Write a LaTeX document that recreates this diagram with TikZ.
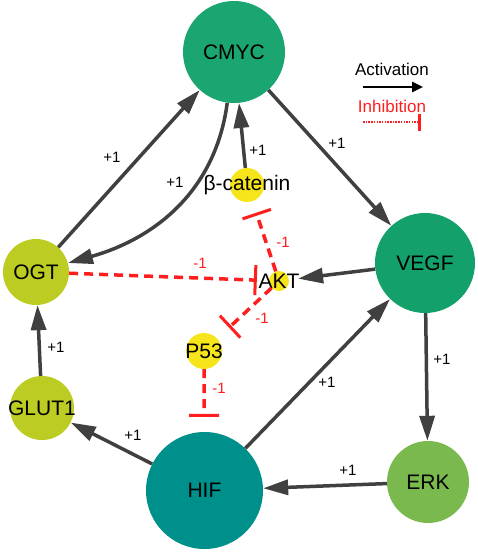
\documentclass[tikz,border=0pt]{standalone}
\usepackage{fontspec}
\setmainfont{Liberation Sans}
\usetikzlibrary{arrows.meta}
\definecolor{cmycg}{HTML}{1BA570}
\definecolor{vegfg}{HTML}{14A06B}
\definecolor{erkg}{HTML}{79B94E}
\definecolor{hift}{HTML}{00908B}
\definecolor{ogty}{HTML}{BDCC23}
\definecolor{yel}{HTML}{F7E51B}
\definecolor{edgec}{HTML}{404040}
\definecolor{inhc}{HTML}{FF1E1E}
\begin{document}
\begin{tikzpicture}[x=1pt,y=-1pt,
  gnode/.style={circle, inner sep=0pt, font=\fontsize{21}{21}\selectfont},
  act/.style={draw=edgec, line width=3.5pt, -{Triangle[length=25pt,width=15pt]}},
  inh/.style={draw=inhc, line width=3.5pt, dash pattern=on 9pt off 6pt, -{Bar[width=30pt,line width=3pt]}},
  lab/.style={font=\fontsize{15}{15}\selectfont, inner sep=0pt},
  nlab/.style={lab, text=inhc}]
\useasboundingbox (0,0) rectangle (477,552);
% nodes
\node[gnode, fill=cmycg, minimum size=102pt] (cmyc) at (234,52) {\makebox[0pt]{CMYC}};
\node[gnode, fill=vegfg, minimum size=100pt] (vegf) at (425,263) {\makebox[0pt]{VEGF}};
\node[gnode, fill=erkg, minimum size=82pt] (erk) at (428,482) {\makebox[0pt]{ERK}};
\node[gnode, fill=hift, minimum size=117pt] (hif) at (204.5,490.5) {\makebox[0pt]{HIF}};
\node[gnode, fill=ogty, minimum size=64pt] (glut) at (42,408) {\makebox[0pt]{GLUT1}};
\node[gnode, fill=ogty, minimum size=66pt] (ogt) at (36,272) {\makebox[0pt]{OGT}};
\node[gnode, fill=yel, minimum size=34pt] (bcat) at (247,185) {\makebox[0pt]{β-catenin}};
\node[gnode, fill=yel, minimum size=20pt] (akt) at (279,281) {\makebox[0pt]{AKT}};
\node[gnode, fill=yel, minimum size=36pt] (p53) at (204,351) {\makebox[0pt]{P53}};
% activation edges
\draw[act] (ogt) -- (cmyc);
\draw[act] (cmyc) .. controls (215,195) and (150,240) .. (ogt);
\draw[act] (bcat) -- (cmyc);
\draw[act] (cmyc) -- (vegf);
\draw[act, shorten >=9pt] (vegf) -- (akt);
\draw[act] (hif) -- (vegf);
\draw[act] (vegf) -- (erk);
\draw[act] (erk) -- (hif);
\draw[act] (hif) -- (glut);
\draw[act] (glut) -- (ogt);
% inhibition edges
\draw[inh, shorten >=12pt] (akt) -- (bcat);
\draw[inh, shorten >=12pt] (ogt) -- (akt);
\draw[inh, shorten >=16pt] (akt) -- (p53);
\draw[inh, shorten >=15pt] (p53) -- (hif);
% labels
\node[lab] (l1) at (112,157) {+1};
\node[lab] (l2) at (175,182) {+1};
\node[lab] (l3) at (258,150) {+1};
\node[lab] (l4) at (337,143) {+1};
\node[lab] (l5) at (442,359) {+1};
\node[lab] (l6) at (327,382) {+1};
\node[lab] (l7) at (348,470) {+1};
\node[lab] (l8) at (133,435) {+1};
\node[lab] (l9) at (56,347) {+1};
\node[nlab] (m1) at (283,242) {-1};
\node[nlab] (m2) at (200,263) {-1};
\node[nlab] (m3) at (262,318) {-1};
\node[nlab] (m4) at (219,388) {-1};
% legend
\node[font=\fontsize{17}{17}\selectfont, inner sep=0pt] (lact) at (392,69) {Activation};
\coordinate (a1) at (363,87);
\coordinate (a2) at (423,87);
\draw[line width=2.5pt, -{Triangle[length=11pt,width=10pt]}] (a1) -- (a2);
\node[font=\fontsize{17}{17}\selectfont, inner sep=0pt, text=inhc] (linh) at (392,106) {Inhibition};
\coordinate (b1) at (363,122);
\coordinate (b2) at (421,122);
\draw[draw=inhc, line width=2.5pt, dash pattern=on 1.5pt off 1.2pt, -{Bar[width=17pt,line width=3pt]}] (b1) -- (b2);
\end{tikzpicture}
\end{document}
